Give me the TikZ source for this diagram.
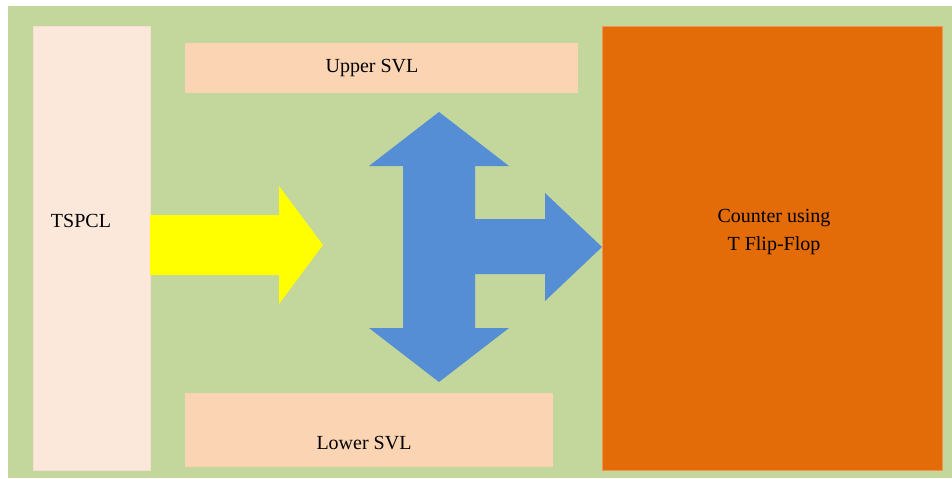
\documentclass[tikz,border=0pt]{standalone}
\usepackage{fontspec}
\setmainfont{Liberation Serif}

\definecolor{bggreen}{RGB}{195,214,155}
\definecolor{tspclfill}{RGB}{251,232,218}
\definecolor{tspcledge}{RGB}{246,224,205}
\definecolor{svlfill}{RGB}{251,212,180}
\definecolor{cntorange}{RGB}{227,108,9}
\definecolor{cntedge}{RGB}{240,150,80}
\definecolor{busblue}{RGB}{85,142,213}
\definecolor{inyellow}{RGB}{255,255,0}

\begin{document}
\begin{tikzpicture}[x=0.75pt,y=-0.75pt,font=\fontsize{15}{21.5}\selectfont]
        % page and backdrop
        \fill[white] (0,0) rectangle (952,478);
        \fill[bggreen] (8,6) rectangle (952,478);
        % blocks
        \draw[fill=tspclfill,draw=tspcledge] (33,26) rectangle (150,470);
        \fill[svlfill] (185,43) rectangle (578,93);
        \fill[svlfill] (185,393) rectangle (553,467);
        \draw[fill=cntorange,draw=cntedge] (602,26) rectangle (942,470);
        % input arrow
        \fill[inyellow] (150,215) -- (279,215) -- (279,186) -- (323,245)
            -- (279,304) -- (279,275) -- (150,275) -- cycle;
        % level shifter arrow, up/down/right
        \fill[busblue] (439,112) -- (509,166) -- (475,166) -- (475,219)
            -- (545,219) -- (545,193) -- (602,247) -- (545,301) -- (545,274)
            -- (475,274) -- (475,328) -- (509,328) -- (439,382) -- (369,328)
            -- (403,328) -- (403,166) -- (369,166) -- cycle;
        % labels
        \node (tspcl) at (81,221) {TSPCL};
        \node (upper) at (372,68) {Upper SVL};
        \node (lower) at (364,443) {Lower SVL};
        \node[align=center] (counter) at (774,232) {Counter using\\T Flip-Flop};
    \end{tikzpicture}
\end{document}
